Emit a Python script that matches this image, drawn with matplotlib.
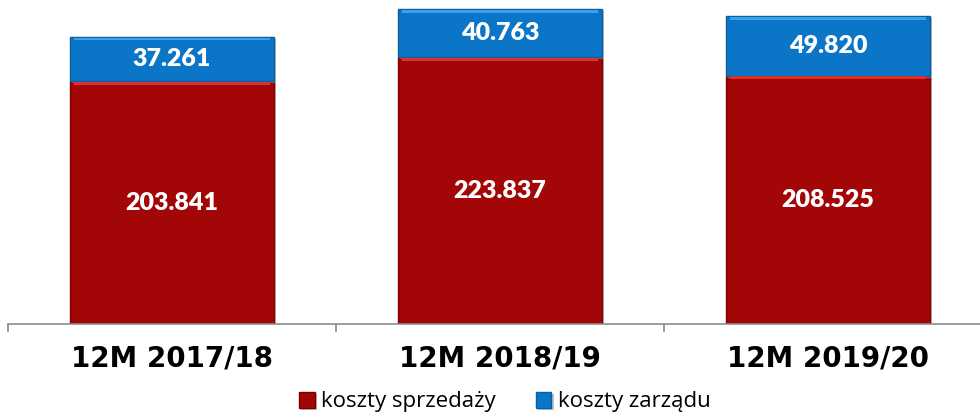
import matplotlib.pyplot as plt
import matplotlib.patheffects as pe

# data
categories = ['12M 2017/18', '12M 2018/19', '12M 2019/20']
sprzedaz = [203.841, 223.837, 208.525]
zarzad = [37.261, 40.763, 49.820]
series_names = ['koszty sprzedaży', 'koszty zarządu']

red = '#a30606'
blue = '#0b76c8'

fig = plt.figure(figsize=(9.8, 4.2), dpi=100)
ax = fig.add_axes([8/980, 96/420, 984/980, 324/420])

x = list(range(len(categories)))
totals = [a + b for a, b in zip(sprzedaz, zarzad)]
shadow = [pe.SimplePatchShadow(offset=(1.5, -1.5), shadow_rgbFace='#9a9a9a', alpha=0.6), pe.Normal()]
b1 = ax.bar(x, sprzedaz, width=0.62, color=red, edgecolor='#7a0000', linewidth=1.0,
            label=series_names[0], path_effects=shadow)
b2 = ax.bar(x, zarzad, bottom=sprzedaz, width=0.62, color=blue, edgecolor='#0a5f9e', linewidth=1.0,
            label=series_names[1], path_effects=shadow)

# light bevel at the top of each segment
hl = 2.5
ax.bar(x, [hl] * 3, bottom=[s - hl - 0.6 for s in sprzedaz], width=0.6, color='#d93030', linewidth=0)
ax.bar(x, [hl] * 3, bottom=[t - hl - 0.6 for t in totals], width=0.6, color='#3aa2ea', linewidth=0)

# value labels
for i in x:
    ax.text(i, sprzedaz[i] / 2, f'{sprzedaz[i]:.3f}', ha='center', va='center',
            color='white', fontsize=18, fontweight='heavy', family='Lato')
    ax.text(i, sprzedaz[i] + zarzad[i] / 2, f'{zarzad[i]:.3f}', ha='center', va='center',
            color='white', fontsize=18, fontweight='heavy', family='Lato')

ax.set_xlim(-0.5, 2.5)
ax.set_ylim(0, 272)
ax.set_yticks([])
for s in ['top', 'right', 'left']:
    ax.spines[s].set_visible(False)
ax.spines['bottom'].set_color('#8c8c8c')
ax.spines['bottom'].set_linewidth(1.2)

ax.set_xticks(x)
ax.set_xticklabels(categories, fontsize=20, fontweight='bold', family='DejaVu Sans')
ax.tick_params(axis='x', which='major', length=0, pad=15)
ax.set_xticks([-0.5, 0.5, 1.5, 2.5], minor=True)
ax.tick_params(axis='x', which='minor', length=6, width=1.2, color='#8c8c8c', direction='out')

leg = fig.legend(handles=[b1, b2], labels=series_names, loc='center', bbox_to_anchor=(505/980, 18/420),
                 ncol=2, frameon=False, prop={'family': 'Open Sans', 'size': 16},
                 handlelength=0.7, handleheight=0.7, handletextpad=0.3, columnspacing=1.8)

fig.savefig('out.png', dpi=100)
